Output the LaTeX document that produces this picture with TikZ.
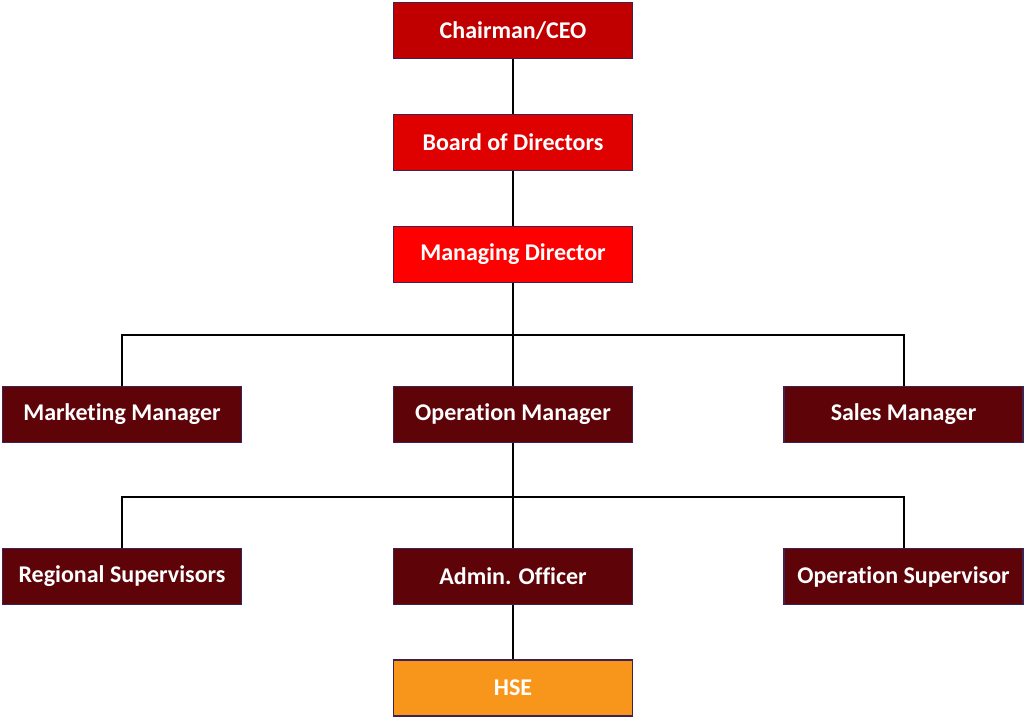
\documentclass[tikz,border=0pt]{standalone}
\usepackage{fontspec}
\setmainfont[Ligatures={NoCommon}]{Carlito}
\definecolor{cceo}{HTML}{C00000}
\definecolor{cboard}{HTML}{DF0000}
\definecolor{cmd}{HTML}{FF0000}
\definecolor{cdark}{HTML}{5E0409}
\definecolor{chse}{HTML}{F8961C}
\definecolor{cborder}{HTML}{3E2352}
\tikzset{
  box/.style={draw=cborder, line width=1.5pt, minimum width=239pt, minimum height=56pt,
    inner sep=0pt, text=white, font=\fontsize{24}{28}\selectfont\bfseries, anchor=center},
  link/.style={draw=black, line width=2pt}
}
\begin{document}
\begin{tikzpicture}[x=1pt,y=-1pt]
\useasboundingbox (0,0) rectangle (1024,716);
\node[box, fill=cceo] (ceo) at (513,30.5) {Chairman/CEO};
\node[box, fill=cboard] (board) at (513,142.5) {Board of Directors};
\node[box, fill=cmd] (md) at (513,254.5) {Managing Director};
\node[box, fill=cdark] (mm) at (122,414.5) {Marketing Manager};
\node[box, fill=cdark] (om) at (513,414.5) {Operation Manager};
\node[box, fill=cdark] (sm) at (903.5,414.5) {Sales Manager};
\node[box, fill=cdark] (rs) at (122,576.5) {Regional Supervisors};
\node[box, fill=cdark] (ao) at (513,576.5) {Admin. Officer};
\node[box, fill=cdark] (os) at (903.5,576.5) {Operation Supervisor};
\node[box, fill=chse] (hse) at (513,688) {HSE};
\coordinate (b1) at (513,335);
\coordinate (b2) at (513,497);
\draw[link] (ceo.south) -- (board.north);
\draw[link] (board.south) -- (md.north);
\draw[link] (md.south) -- (om.north);
\draw[link] (mm.north) |- (b1) -| (sm.north);
\draw[link] (om.south) -- (ao.north);
\draw[link] (rs.north) |- (b2) -| (os.north);
\draw[link] (ao.south) -- (hse.north);
\end{tikzpicture}
\end{document}
